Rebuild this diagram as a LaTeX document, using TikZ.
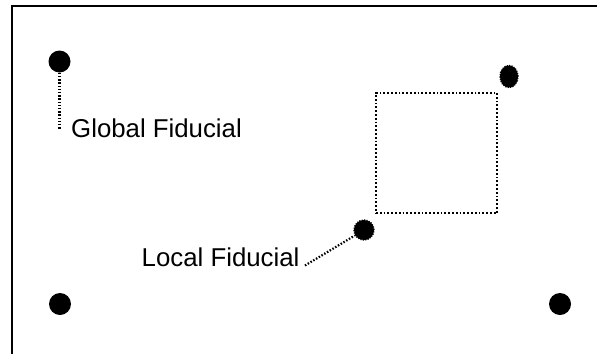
\documentclass[tikz,border=0pt]{standalone}
\usepackage{fontspec}
\setmainfont{Liberation Sans}
\usetikzlibrary{shapes.geometric}

\tikzset{
  fiducial/.style={circle, fill=black, inner sep=0pt, minimum size=22pt},
  roughfid/.style={fill=black, draw=black, line width=1.4pt,
                   dash pattern=on 1.2pt off 1.2pt, inner sep=0pt},
  leader/.style={line width=2.2pt, dash pattern=on 1.5pt off 1.7pt},
  areabox/.style={line width=2.1pt, dash pattern=on 1.8pt off 2pt},
  caption/.style={font=\fontsize{25.8}{30}\selectfont, anchor=base west, inner sep=0pt},
  frame/.style={line width=2.8pt}
}

\begin{document}
\begin{tikzpicture}[x=1pt, y=-1pt]
  \useasboundingbox (0,0) rectangle (597,354);

  % board outline (top and left edges)
  \draw[frame] (12,354) -- (12,6) -- (597,6);

  % global fiducials in the corners
  \node[fiducial] (gtl) at (59.5,61.5) {};
  \node[fiducial] (gbl) at (60,304) {};
  \node[fiducial] (gbr) at (560,304) {};

  % component area and its local fiducials
  \node[draw, areabox, inner sep=0pt, minimum width=121pt, minimum height=120.5pt]
    (area) at (436.5,153) {};
  \node[roughfid, ellipse, minimum width=18pt, minimum height=22pt] (ltr) at (509,76.5) {};
  \node[roughfid, circle, minimum size=20pt] (lbl) at (364,230) {};

  % labels
  \node[caption] (gtext) at (71,137.3) {Global Fiducial};
  \node[caption] (ltext) at (141.5,266.7) {Local Fiducial};

  % leader lines
  \coordinate (gend) at (59.5,128.5);
  \coordinate (lend) at (305,265.5);
  \draw[leader] (gtl.south) -- (gend);
  \draw[leader] (lend) -- (lbl);
\end{tikzpicture}
\end{document}
